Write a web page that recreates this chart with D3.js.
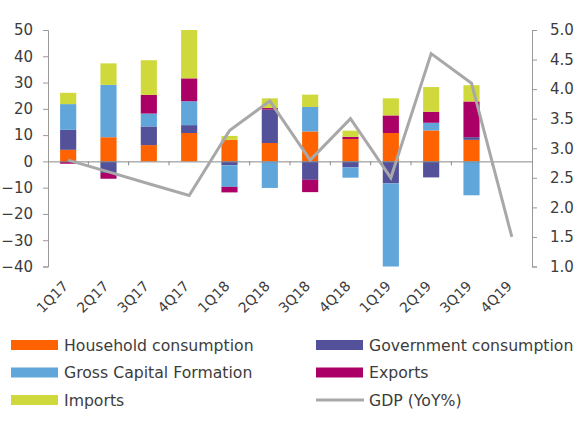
<!DOCTYPE html>
<html>
<head>
<meta charset="utf-8">
<script src="https://cdn.jsdelivr.net/npm/d3@7"></script>
<style>
  body { margin: 0; background: #fff; }
  text { font-family: "DejaVu Sans", sans-serif; fill: #3c3c3c; }
</style>
</head>
<body>
<div id="chart"></div>
<script>
var quarters = ["1Q17", "2Q17", "3Q17", "4Q17", "1Q18", "2Q18", "3Q18", "4Q18", "1Q19", "2Q19", "3Q19", "4Q19"];
var household = [4.4, 9.2, 6.2, 10.8, 8.2, 7.0, 11.4, 8.5, 10.8, 11.8, 8.2, 0];
var government = [7.6, -4.4, 7.1, 3.0, -1.5, 12.7, -7.0, -2.3, -8.4, -6.1, 1.0, 0];
var gcf = [9.8, 19.9, 4.9, 9.1, -8.2, -10.1, 9.3, -3.9, -31.6, 2.9, -12.9, 0];
var exportsC = [-0.9, -2.2, 7.1, 8.7, -2.1, 0.6, -4.7, 0.8, 6.7, 4.2, 13.6, 0];
var imports = [4.3, 8.2, 13.2, 18.4, 1.5, 3.7, 4.7, 2.4, 6.5, 9.4, 6.2, 0];
var gdp = [2.8, 2.6, 2.4, 2.2, 3.3, 3.8, 2.8, 3.5, 2.5, 4.6, 4.1, 1.5];

var leftTicks = [50, 40, 30, 20, 10, 0, -10, -20, -30, -40];
var rightTicks = [5.0, 4.5, 4.0, 3.5, 3.0, 2.5, 2.0, 1.5, 1.0];

var keys = ["household", "government", "gcf", "exports", "imports"];
var names = ["Household consumption", "Government consumption", "Gross Capital Formation", "Exports", "Imports", "GDP (YoY%)"];
var colors = ["#ff6200", "#525199", "#60a6da", "#ab0066", "#d0d93c"];
var lineColor = "#a8a8a8";

// table for d3.stack
var table = quarters.map(function(q, i) {
  return {q: q, household: household[i], government: government[i], gcf: gcf[i], exports: exportsC[i], imports: imports[i]};
});

var svg = d3.select("#chart")
  .append("svg")
  .attr("width", 586)
  .attr("height", 426);

// plot edges (note: "top" is taken by window.top)
var plotL = 48, plotR = 532, plotT = 30, plotB = 266.5;

var x = d3.scaleBand()
  .domain(quarters)
  .range([plotL, plotR]);

var y = d3.scaleLinear()
  .domain([-40, 50])
  .range([plotB, plotT]);

var y2 = d3.scaleLinear()
  .domain([1, 5])
  .range([plotB, plotT]);

var color = d3.scaleOrdinal()
  .domain(keys)
  .range(colors);

// left axis
var gl = svg.append("g")
  .attr("transform", "translate(" + plotL + ",0)")
  .call(d3.axisLeft(y).tickValues(leftTicks).tickSize(5).tickPadding(10).tickSizeOuter(5));
gl.select(".domain").attr("stroke", "#999");
gl.selectAll(".tick line").attr("stroke", "#999");
gl.selectAll("text").style("font-size", "15px").style("font-family", "DejaVu Sans").attr("fill", "#3c3c3c");

// right axis
var gr = svg.append("g")
  .attr("transform", "translate(" + plotR + ",0)")
  .call(d3.axisRight(y2).tickValues(rightTicks).tickFormat(d3.format(".1f")).tickSize(5).tickPadding(13).tickSizeOuter(5));
gr.select(".domain").attr("stroke", "#999");
gr.selectAll(".tick line").attr("stroke", "#999");
gr.selectAll("text").style("font-size", "15px").style("font-family", "DejaVu Sans").attr("fill", "#3c3c3c");

// stacked bars
var series = d3.stack()
  .keys(keys)
  .offset(d3.stackOffsetDiverging)(table);

var barW = x.bandwidth() * 0.4;

svg.append("g")
  .selectAll("g")
  .data(series)
  .enter()
  .append("g")
    .attr("fill", function(d) { return color(d.key); })
  .selectAll("rect")
  .data(function(d) { return d; })
  .enter()
  .append("rect")
    .attr("x", function(d) { return x(d.data.q) + (x.bandwidth() - barW) / 2; })
    .attr("y", function(d) { return y(Math.max(d[0], d[1])); })
    .attr("width", barW)
    .attr("height", function(d) { return Math.abs(y(d[0]) - y(d[1])); });

// zero line with small ticks between quarters
var gz = svg.append("g")
  .attr("transform", "translate(0," + y(0) + ")")
  .call(d3.axisBottom(x).tickSize(0).tickFormat(""));
gz.select(".domain").attr("stroke", "#888");
gz.selectAll(".tick").remove();
gz.selectAll("line.sep")
  .data(quarters.slice(1))
  .enter()
  .append("line")
    .attr("class", "sep")
    .attr("x1", function(d) { return x(d); })
    .attr("x2", function(d) { return x(d); })
    .attr("y1", 0)
    .attr("y2", 4)
    .attr("stroke", "#888");

// GDP line
svg.append("path")
  .datum(gdp)
  .attr("d", d3.line()
    .x(function(d, i) { return x(quarters[i]) + x.bandwidth() / 2; })
    .y(function(d) { return y2(d); })
  )
  .attr("stroke", lineColor)
  .style("stroke-width", 3)
  .style("fill", "none");

// x labels, rotated
svg.selectAll("text.xlab")
  .data(quarters)
  .enter()
  .append("text")
    .attr("class", "xlab")
    .attr("transform", function(d) { return "translate(" + (x(d) + x.bandwidth() / 2 + 1) + ",287) rotate(-45)"; })
    .style("text-anchor", "end")
    .style("font-size", "14px")
    .text(function(d) { return d; });

// legend
var legend = svg.selectAll("g.leg")
  .data(names)
  .enter()
  .append("g")
    .attr("class", "leg")
    .attr("transform", function(d, i) { return "translate(" + (i % 2 == 0 ? 11 : 316) + "," + (345 + Math.floor(i / 2) * 27.5) + ")"; });

legend.filter(function(d, i) { return i < 5; })
  .append("rect")
    .attr("x", 0)
    .attr("y", -5)
    .attr("width", 47)
    .attr("height", 10)
    .attr("fill", function(d) { return colors[names.indexOf(d)]; });

legend.filter(function(d, i) { return i == 5; })
  .append("line")
    .attr("x1", 0)
    .attr("x2", 48)
    .attr("stroke", lineColor)
    .style("stroke-width", 3);

legend.append("text")
  .attr("x", 53)
  .attr("y", 5.5)
  .style("font-size", "15.7px")
  .text(function(d) { return d; });
</script>
</body>
</html>
